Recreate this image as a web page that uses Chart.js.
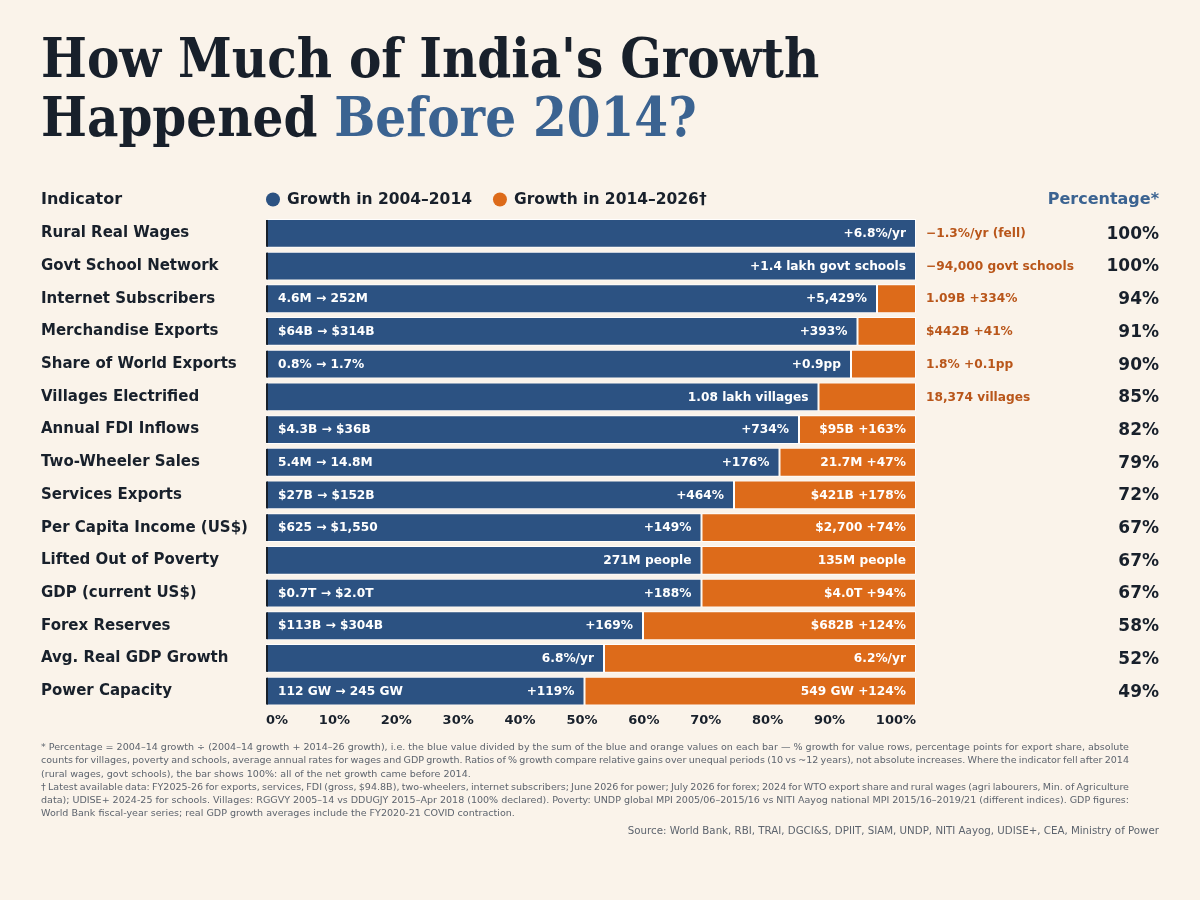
<!DOCTYPE html>
<html>
<head>
<meta charset="utf-8">
<script src="https://cdn.jsdelivr.net/npm/chart.js@4.4.1/dist/chart.umd.min.js"></script>
<style>
  body { margin: 0; background: #faf3ea; }
  #wrap { position: relative; width: 1200px; height: 900px; overflow: hidden; }
  #title {
    position: absolute; left: 41px; top: 29px; margin: 0;
    font: bold 54px/59px "DejaVu Serif Condensed", "DejaVu Serif", serif;
    color: #18202b; white-space: nowrap;
  }
  #title span { color: #3b6391; }
  canvas { position: absolute; left: 0; top: 0; }
  #notes {
    position: absolute; left: 41px; top: 740px;
    font: 9.55px/13.3px "DejaVu Sans", sans-serif; color: #5d646e; white-space: nowrap;
  }
  #notes div { display: block; width: max-content; }
  #source {
    position: absolute; right: 41px; top: 824px;
    font: 10.25px "DejaVu Sans", sans-serif; color: #5d646e; white-space: nowrap;
  }
</style>
</head>
<body>
<div id="wrap">
  <h1 id="title">How Much of India's Growth<br>Happened <span>Before 2014?</span></h1>
  <canvas id="myChart" width="1200" height="900"></canvas>
  <div id="notes">
    <div class="fit">* Percentage = 2004–14 growth ÷ (2004–14 growth + 2014–26 growth), i.e. the blue value divided by the sum of the blue and orange values on each bar — % growth for value rows, percentage points for export share, absolute</div>
    <div class="fit">counts for villages, poverty and schools, average annual rates for wages and GDP growth. Ratios of % growth compare relative gains over unequal periods (10 vs ~12 years), not absolute increases. Where the indicator fell after 2014</div>
    <div>(rural wages, govt schools), the bar shows 100%: all of the net growth came before 2014.</div>
    <div class="fit">† Latest available data: FY2025-26 for exports, services, FDI (gross, $94.8B), two-wheelers, internet subscribers; June 2026 for power; July 2026 for forex; 2024 for WTO export share and rural wages (agri labourers, Min. of Agriculture</div>
    <div class="fit">data); UDISE+ 2024-25 for schools. Villages: RGGVY 2005–14 vs DDUGJY 2015–Apr 2018 (100% declared). Poverty: UNDP global MPI 2005/06–2015/16 vs NITI Aayog national MPI 2015/16–2019/21 (different indices). GDP figures:</div>
    <div>World Bank fiscal-year series; real GDP growth averages include the FY2020-21 COVID contraction.</div>
  </div>
  <div id="source">Source: World Bank, RBI, TRAI, DGCI&amp;S, DPIIT, SIAM, UNDP, NITI Aayog, UDISE+, CEA, Ministry of Power</div>
</div>
<script>
const indicators = [
  "Rural Real Wages", "Govt School Network", "Internet Subscribers",
  "Merchandise Exports", "Share of World Exports", "Villages Electrified",
  "Annual FDI Inflows", "Two-Wheeler Sales", "Services Exports",
  "Per Capita Income (US$)", "Lifted Out of Poverty", "GDP (current US$)",
  "Forex Reserves", "Avg. Real GDP Growth", "Power Capacity"
];
// share of net growth that came in 2004–2014 (%)
const sharePre2014 = [100, 100, 94, 91, 90, 85, 82, 79, 72, 67, 67, 67, 58, 52, 49];
const sharePost2014 = sharePre2014.map(v => 100 - v);

const rangeLabels = [
  "", "", "4.6M → 252M", "$64B → $314B", "0.8% → 1.7%", "",
  "$4.3B → $36B", "5.4M → 14.8M", "$27B → $152B", "$625 → $1,550", "",
  "$0.7T → $2.0T", "$113B → $304B", "", "112 GW → 245 GW"
];
const preLabels = [
  "+6.8%/yr", "+1.4 lakh govt schools", "+5,429%", "+393%", "+0.9pp",
  "1.08 lakh villages", "+734%", "+176%", "+464%", "+149%", "271M people",
  "+188%", "+169%", "6.8%/yr", "+119%"
];
const postLabels = [
  "−1.3%/yr (fell)", "−94,000 govt schools", "1.09B +334%", "$442B +41%",
  "1.8% +0.1pp", "18,374 villages", "$95B +163%", "21.7M +47%", "$421B +178%",
  "$2,700 +74%", "135M people", "$4.0T +94%", "$682B +124%", "6.2%/yr",
  "549 GW +124%"
];
const tickLabels = ["0%", "10%", "20%", "30%", "40%", "50%", "60%", "70%", "80%", "90%", "100%"];

const BLUE = "#2c5282";
const ORANGE = "#dd6b1a";
const ORANGE_TEXT = "#b9561a";
const DARK = "#18202b";
const ACCENT = "#3b6391";
const FONT = "'DejaVu Sans', sans-serif";

// footnote lines that run to the full text width
document.querySelectorAll("#notes .fit").forEach(line => {
  const spaces = (line.textContent.match(/ /g) || []).length;
  const diff = 1088 - line.getBoundingClientRect().width;
  line.style.wordSpacing = (diff / spaces) + "px";
});

const rowText = {
  id: "rowText",
  afterDatasetsDraw(chart) {
    const { ctx, chartArea } = chart;
    const pre = chart.getDatasetMeta(0).data;
    const post = chart.getDatasetMeta(1).data;
    ctx.save();
    ctx.textBaseline = "middle";
    indicators.forEach((name, i) => {
      const b = pre[i], o = post[i];
      const y = b.y;
      // dark left edge on each bar
      ctx.fillStyle = DARK;
      ctx.fillRect(chartArea.left, y - b.height / 2 + 1, 2, b.height - 2);

      ctx.font = "bold 12.2px " + FONT;
      ctx.fillStyle = "#ffffff";
      if (rangeLabels[i]) {
        ctx.textAlign = "left";
        ctx.fillText(rangeLabels[i], b.base + 12, y + 0.5);
      }
      ctx.textAlign = "right";
      ctx.fillText(preLabels[i], b.x - 10, y + 0.5);

      const w = ctx.measureText(postLabels[i]).width;
      if (o.x - o.base > w + 20) {
        ctx.fillText(postLabels[i], o.x - 10, y + 0.5);
      } else {
        ctx.textAlign = "left";
        ctx.fillStyle = ORANGE_TEXT;
        ctx.fillText(postLabels[i], chartArea.right + 10, y + 0.5);
      }

      ctx.font = "bold 17px " + FONT;
      ctx.fillStyle = DARK;
      ctx.textAlign = "right";
      ctx.fillText(sharePre2014[i] + "%", chart.width - 41, y + 1);
    });
    ctx.restore();
  },
  afterDraw(chart) {
    const { ctx, chartArea } = chart;
    ctx.save();
    ctx.textBaseline = "middle";
    // header row
    const hy = chartArea.top - 17.5;
    ctx.font = "bold 16px " + FONT;
    ctx.fillStyle = DARK;
    ctx.textAlign = "left";
    ctx.fillText("Indicator", 41, hy);
    ctx.textAlign = "right";
    ctx.fillStyle = ACCENT;
    ctx.fillText("Percentage*", chart.width - 41, hy);

    const legend = [
      { text: "Growth in 2004–2014", color: BLUE },
      { text: "Growth in 2014–2026†", color: ORANGE }
    ];
    ctx.font = "bold 15.5px " + FONT;
    ctx.textAlign = "left";
    let lx = chartArea.left;
    legend.forEach(item => {
      ctx.fillStyle = item.color;
      ctx.beginPath();
      ctx.arc(lx + 7, hy, 7, 0, Math.PI * 2);
      ctx.fill();
      ctx.fillStyle = DARK;
      ctx.fillText(item.text, lx + 21, hy);
      lx += 21 + ctx.measureText(item.text).width + 21;
    });

    // x-axis labels spread across the bar width
    ctx.font = "bold 13px " + FONT;
    ctx.fillStyle = DARK;
    const widths = tickLabels.map(t => ctx.measureText(t).width);
    const total = widths.reduce((a, b) => a + b, 0);
    const gap = (chartArea.right - chartArea.left - total) / (tickLabels.length - 1);
    let tx = chartArea.left;
    tickLabels.forEach((t, i) => {
      ctx.fillText(t, tx, chartArea.bottom + 13);
      tx += widths[i] + gap;
    });
    ctx.restore();
  }
};

new Chart(document.getElementById("myChart"), {
  type: "bar",
  data: {
    labels: indicators,
    datasets: [
      {
        label: "Growth in 2004–2014",
        data: sharePre2014,
        backgroundColor: BLUE,
        borderColor: "rgba(255,255,255,0.9)",
        borderWidth: 1,
        borderSkipped: false,
        barPercentage: 0.88,
        categoryPercentage: 1
      },
      {
        label: "Growth in 2014–2026†",
        data: sharePost2014,
        backgroundColor: ORANGE,
        borderColor: "rgba(255,255,255,0.9)",
        borderWidth: 1,
        borderSkipped: false,
        barPercentage: 0.88,
        categoryPercentage: 1
      }
    ]
  },
  options: {
    indexAxis: "y",
    responsive: false,
    animation: false,
    devicePixelRatio: 1,
    layout: { padding: { left: 41, right: 284, top: 217, bottom: 192.5 } },
    plugins: {
      legend: { display: false },
      tooltip: { enabled: false }
    },
    scales: {
      x: {
        stacked: true,
        min: 0,
        max: 100,
        display: false
      },
      y: {
        stacked: true,
        grid: { display: false },
        border: { display: false },
        afterFit: axis => { axis.width = 225; },
        ticks: {
          crossAlign: "far",
          color: DARK,
          font: { family: FONT, size: 15, weight: "bold" }
        }
      }
    }
  },
  plugins: [rowText]
});
</script>
</body>
</html>
